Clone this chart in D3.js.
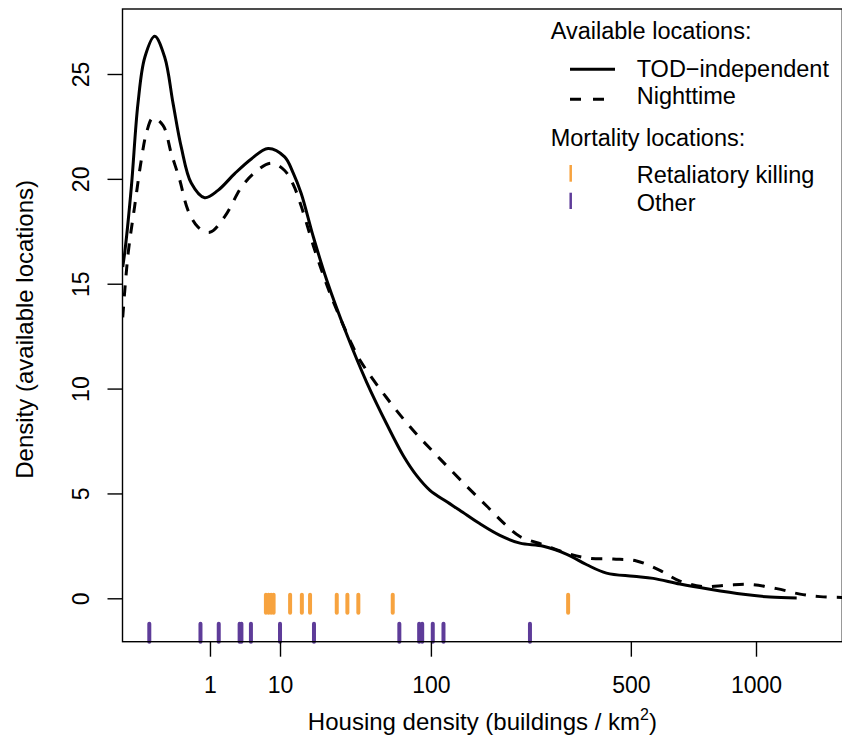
<!DOCTYPE html>
<html>
<head>
<meta charset="utf-8">
<script src="https://cdn.jsdelivr.net/npm/d3@7"></script>
<style>
  html, body { margin: 0; padding: 0; background: #fff; }
  svg { display: block; }
  text { font-family: "Liberation Sans", Arial, Helvetica, sans-serif; fill: #000; }
</style>
</head>
<body>
<svg id="chart" width="842" height="741"></svg>
<script>
// ---------------- data (housing density in buildings / km^2) ----------------
const todX = [-0.084, -0.064, -0.026, -0.0065, -0.0004, 0.0007, 0.0164, 0.06, 0.147, 0.33,
  0.76, 1.45, 2.79, 4.75, 7.5, 11.1, 13.3, 15.7, 19.75, 25,
  34.4, 46, 60, 73.4, 85.6, 99, 118, 134, 162, 193,
  228, 274, 326, 375, 428, 508, 573, 669, 789, 939,
  1071, 1215];
const todY = [15.8, 16.6, 19.6, 23.6, 25.8, 26.8, 25.8, 23.6, 21.5, 19.8,
  19.1, 19.45, 20.25, 20.95, 21.45, 21.05, 20.3, 19.3, 17.24, 15.18,
  12.6, 10.3, 8.3, 6.8, 5.85, 5.15, 4.6, 4.2, 3.55, 3.0,
  2.63, 2.48, 2.1, 1.6, 1.2, 1.05, 0.95, 0.68, 0.43, 0.19,
  0.06, 0.02];

const nightX = [-0.084, -0.043, -0.014, -0.0023, -0.0001, 0.0002, 0.0115, 0.048, 0.126, 0.26,
  0.52, 0.99, 1.92, 3.5, 5.24, 8.1, 11.1, 13.3, 15.7, 20.3,
  26.4, 36.2, 41.9, 60, 82.4, 110, 143, 172, 199, 228,
  274, 326, 375, 447, 518, 596, 669, 761, 862, 971,
  1106, 1234, 1351, 1490, 1620];
const nightY = [13.4, 16.4, 18.7, 20.9, 22.2, 22.9, 22.55, 21.2, 19.95, 18.5,
  17.7, 17.45, 18.2, 19.6, 20.3, 20.75, 20.4, 19.75, 18.7, 16.6,
  14.55, 12.3, 11.35, 9.55, 8.0, 6.65, 5.35, 4.4, 3.6, 2.95,
  2.55, 2.15, 1.92, 1.87, 1.78, 1.33, 0.82, 0.56, 0.62, 0.66,
  0.46, 0.2, 0.08, 0.04, 0.02];

const retaliatory = [7.1, 7.6, 8.1, 8.6, 12.5, 15.9, 18.6, 29.5, 34.8, 40.9, 64.6, 329];
const other = [0, 0.6, 1.5, 3.3, 3.5, 4.7, 10, 20, 70, 88, 91, 102, 114, 247];

const xTickValues = [1, 10, 100, 500, 1000];
const yTickValues = [0, 5, 10, 15, 20, 25];

const legendSeries = ["TOD\u2212independent", "Nighttime"];
const legendMortality = ["Retaliatory killing", "Other"];

// ---------------- layout ----------------
const svg = d3.select("#chart");
const box = { left: 122.5, right: 842.3, top: 9, bottom: 641.7 };
const orange = "#F7A33F", purple = "#5E3C99";

const x = d3.scalePow().exponent(1 / 3).domain([0, 1000]).range([149.3, 756]);
const y = d3.scaleLinear().domain([0, 25]).range([598.3, 74]);

svg.append("defs").append("clipPath").attr("id", "plotclip")
  .append("rect").attr("x", box.left).attr("y", box.top)
  .attr("width", box.right - box.left).attr("height", box.bottom - box.top);

const plot = svg.append("g").attr("clip-path", "url(#plotclip)");

const line = d3.line()
  .x(d => x(d[0])).y(d => y(d[1]))
  .curve(d3.curveCatmullRom.alpha(0.5));

plot.append("path")
  .datum(d3.zip(todX, todY))
  .attr("d", line)
  .attr("fill", "none").attr("stroke", "#000").attr("stroke-width", 3)
  .attr("stroke-linejoin", "round");

plot.append("path")
  .datum(d3.zip(nightX, nightY))
  .attr("d", line)
  .attr("fill", "none").attr("stroke", "#000").attr("stroke-width", 3)
  .attr("stroke-dasharray", "11,10");

// rugs
plot.selectAll("line.rugR").data(retaliatory).enter().append("line")
  .attr("x1", d => x(d)).attr("x2", d => x(d))
  .attr("y1", y(0) - 3.5).attr("y2", y(0) + 14.5)
  .attr("stroke", orange).attr("stroke-width", 4).attr("stroke-linecap", "round");

svg.append("g").selectAll("line.rugO").data(other).enter().append("line")
  .attr("x1", d => x(d)).attr("x2", d => x(d))
  .attr("y1", y(0) + 25.5).attr("y2", y(0) + 43.5)
  .attr("stroke", purple).attr("stroke-width", 4).attr("stroke-linecap", "round");

// box
svg.append("rect")
  .attr("x", box.left).attr("y", box.top)
  .attr("width", box.right - box.left).attr("height", box.bottom - box.top)
  .attr("fill", "none").attr("stroke", "#000").attr("stroke-width", 1.4);

// x axis
const xAxis = d3.axisBottom(x).tickValues(xTickValues).tickSize(15).tickPadding(20)
  .tickFormat(d3.format("d"));
const gx = svg.append("g").attr("transform", `translate(0,${box.bottom})`).call(xAxis);
gx.select(".domain").remove();
gx.selectAll(".tick line").attr("stroke", "#000").attr("stroke-width", 1.4);
gx.selectAll(".tick text").attr("font-size", 23).attr("dy", "0.71em")
  .style("font-family", "'Liberation Sans', Arial, sans-serif").attr("fill", "#000");

// y axis
const yAxis = d3.axisLeft(y).tickValues(yTickValues).tickSize(15).tickFormat(d3.format("d"));
const gy = svg.append("g").attr("transform", `translate(${box.left},0)`).call(yAxis);
gy.select(".domain").remove();
gy.selectAll(".tick line").attr("stroke", "#000").attr("stroke-width", 1.4);
gy.selectAll(".tick text")
  .attr("x", null).attr("dy", null)
  .attr("text-anchor", "middle")
  .attr("transform", "translate(-34,0) rotate(-90)")
  .attr("font-size", 23)
  .style("font-family", "'Liberation Sans', Arial, sans-serif").attr("fill", "#000");

// axis titles
const xl = svg.append("text")
  .attr("x", (box.left + box.right) / 2).attr("y", 730)
  .attr("text-anchor", "middle").attr("font-size", 24);
xl.append("tspan").text("Housing density (buildings / km");
xl.append("tspan").text("2").attr("font-size", 16).attr("dy", -10);
xl.append("tspan").text(")").attr("dy", 10);

svg.append("text")
  .attr("transform", `translate(33,${(box.top + box.bottom) / 2 + 4}) rotate(-90)`)
  .attr("text-anchor", "middle").attr("font-size", 24)
  .text("Density (available locations)");

// legend
const lg = svg.append("g");
const fs = 23.5;
lg.append("text").attr("x", 550.7).attr("y", 39.3).attr("font-size", fs).text("Available locations:");
lg.append("line").attr("x1", 570).attr("x2", 615).attr("y1", 69.3).attr("y2", 69.3)
  .attr("stroke", "#000").attr("stroke-width", 3);
lg.append("line").attr("x1", 570).attr("x2", 615).attr("y1", 99.3).attr("y2", 99.3)
  .attr("stroke", "#000").attr("stroke-width", 3).attr("stroke-dasharray", "11,12");
lg.append("text").attr("x", 636.7).attr("y", 77.3).attr("font-size", fs).text(legendSeries[0]);
lg.append("text").attr("x", 636.7).attr("y", 104).attr("font-size", fs).text(legendSeries[1]);
lg.append("text").attr("x", 550.7).attr("y", 146).attr("font-size", fs).text("Mortality locations:");
lg.append("line").attr("x1", 570.7).attr("x2", 570.7).attr("y1", 165).attr("y2", 181.7)
  .attr("stroke", orange).attr("stroke-width", 2.5);
lg.append("line").attr("x1", 570.7).attr("x2", 570.7).attr("y1", 192.7).attr("y2", 209)
  .attr("stroke", purple).attr("stroke-width", 2.5);
lg.append("text").attr("x", 636.7).attr("y", 183.3).attr("font-size", fs).text(legendMortality[0]);
lg.append("text").attr("x", 636.7).attr("y", 210.5).attr("font-size", fs).text(legendMortality[1]);
</script>
</body>
</html>
